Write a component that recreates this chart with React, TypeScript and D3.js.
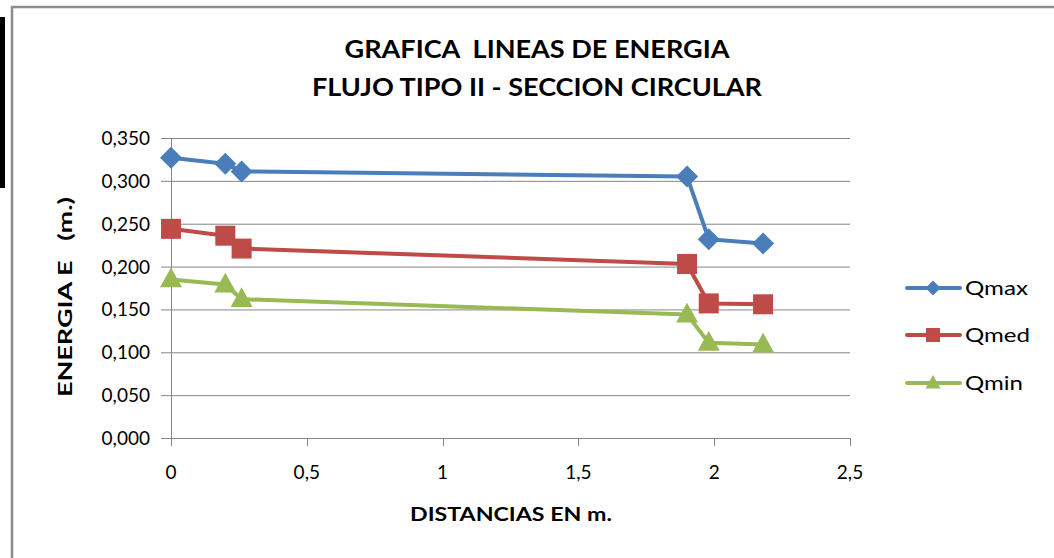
import React from "react";
import * as d3 from "d3";

const distances = [0, 0.2, 0.26, 1.9, 1.98, 2.18];
const qmax = [0.327, 0.32, 0.311, 0.305, 0.232, 0.227];
const qmed = [0.244, 0.236, 0.221, 0.203, 0.157, 0.156];
const qmin = [0.185, 0.179, 0.162, 0.144, 0.111, 0.109];
const yTicks = [0, 0.05, 0.1, 0.15, 0.2, 0.25, 0.3, 0.35];
const xTicks = [0, 0.5, 1, 1.5, 2, 2.5];
const seriesNames = ["Qmax", "Qmed", "Qmin"];
const titleLines = ["GRAFICA  LINEAS DE ENERGIA", "FLUJO TIPO II - SECCION CIRCULAR"];

const colors = ["#4A7EBB", "#BE4B48", "#98B954"];
const FONT = "Lato, 'Open Sans', sans-serif";

const fmt = (v: number, d: number) => v.toFixed(d).replace(".", ",");

function Marker({ kind, x, y, s, color }: { kind: number; x: number; y: number; s: number; color: string }) {
  if (kind === 0) {
    const r = s / 2;
    return <path d={`M${x},${y - r}L${x + r},${y}L${x},${y + r}L${x - r},${y}Z`} fill={color} />;
  }
  if (kind === 1) {
    const r = s / 2;
    return <rect x={x - r} y={y - r} width={s} height={s} fill={color} />;
  }
  const h = s * 0.9;
  return (
    <path
      d={`M${x},${y - h * 0.6}L${x + s / 2},${y + h * 0.4}L${x - s / 2},${y + h * 0.4}Z`}
      fill={color}
    />
  );
}

export default function App() {
  const W = 1054;
  const H = 558;
  const x = d3.scaleLinear().domain([0, 2.5]).range([171, 850]);
  const y = d3.scaleLinear().domain([0, 0.35]).range([438, 138]);
  const data = [qmax, qmed, qmin];
  const line = d3
    .line<[number, number]>()
    .x((d) => x(d[0]))
    .y((d) => y(d[1]));
  const markerSize = [22, 20, 22];
  const legendY = [288, 335, 383];
  const titleLen = [385, 450];
  const legendLen = [63, 65, 58];

  return (
    <svg
      width={W}
      height={H}
      style={{ position: "absolute", left: 0, top: 0, background: "#fff" }}
      fontFamily={FONT}
    >
      <rect x={0} y={0} width={W} height={H} fill="#fff" />
      <rect x={0} y={17} width={5} height={171} fill="#000" />
      <path d={`M12,${H}V7H${W}`} fill="none" stroke="#8c8c8c" strokeWidth={2.5} />

      {/* title */}
      {titleLines.map((t, i) => (
        <text
          key={i}
          x={537}
          y={58 + i * 38}
          textAnchor="middle"
          fontSize={24}
          fontWeight="bold"
          fill="#000"
          textLength={titleLen[i]}
          lengthAdjust="spacingAndGlyphs"
          style={{ whiteSpace: "pre" }}
        >
          {t}
        </text>
      ))}

      {/* gridlines */}
      {yTicks.map((v) => (
        <line key={v} x1={161} x2={850} y1={y(v) + 0.5} y2={y(v) + 0.5} stroke="#868686" strokeWidth={1} />
      ))}
      {/* y axis */}
      <line x1={171.5} x2={171.5} y1={138} y2={438} stroke="#868686" strokeWidth={1} />
      {xTicks.map((v) => (
        <line key={v} x1={Math.round(x(v)) + 0.5} x2={Math.round(x(v)) + 0.5} y1={438} y2={446} stroke="#868686" strokeWidth={1} />
      ))}
      {yTicks.map((v) => (
        <text key={v} x={150} y={y(v) + 7} textAnchor="end" fontSize={19} fill="#000">
          {fmt(v, 3)}
        </text>
      ))}
      {xTicks.map((v) => (
        <text key={v} x={x(v)} y={479} textAnchor="middle" fontSize={19} fill="#000">
          {v === 0 ? "0" : fmt(v, Number.isInteger(v) ? 0 : 1)}
        </text>
      ))}

      <text
        x={511}
        y={521}
        textAnchor="middle"
        fontSize={18}
        fontWeight="bold"
        fill="#000"
        textLength={202}
        lengthAdjust="spacingAndGlyphs"
      >
        DISTANCIAS EN m.
      </text>
      <text
        transform="translate(72,297) rotate(-90)"
        textAnchor="middle"
        fontSize={19}
        fontWeight="bold"
        fill="#000"
        textLength={200}
        lengthAdjust="spacingAndGlyphs"
        style={{ whiteSpace: "pre" }}
      >
        ENERGIA E   (m.)
      </text>

      {/* series */}
      {data.map((vals, si) => {
        const pts: [number, number][] = distances.map((d, i) => [d, vals[i]]);
        return (
          <g key={si}>
            <path d={line(pts) || ""} fill="none" stroke={colors[si]} strokeWidth={4} strokeLinejoin="round" />
            {pts.map((p, i) => (
              <Marker key={i} kind={si} x={x(p[0])} y={y(p[1])} s={markerSize[si]} color={colors[si]} />
            ))}
          </g>
        );
      })}

      {/* legend */}
      {seriesNames.map((n, i) => (
        <g key={n}>
          <line x1={907} x2={960} y1={legendY[i]} y2={legendY[i]} stroke={colors[i]} strokeWidth={4} strokeLinecap="round" />
          <Marker kind={i} x={933} y={legendY[i]} s={i === 1 ? 14 : 15} color={colors[i]} />
          <text
            x={965}
            y={legendY[i] + 7}
            fontSize={20}
            fill="#000"
            textLength={legendLen[i]}
            lengthAdjust="spacingAndGlyphs"
          >
            {n}
          </text>
        </g>
      ))}
    </svg>
  );
}
